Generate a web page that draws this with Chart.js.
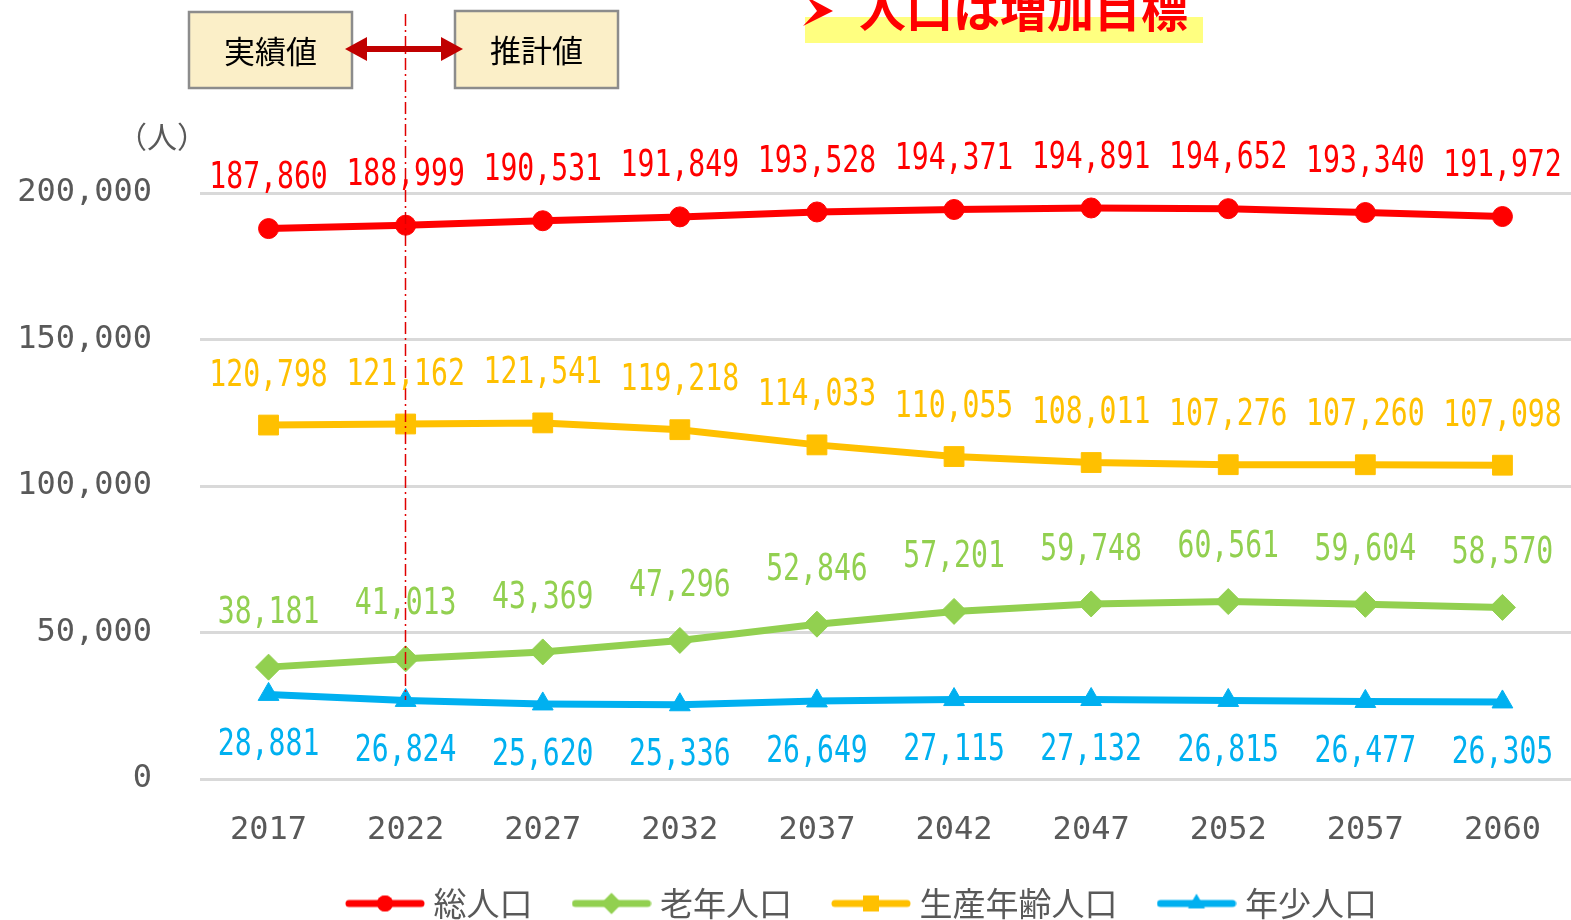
<!DOCTYPE html>
<html lang="ja">
<head>
<meta charset="utf-8">
<title>人口の推移</title>
<script src="https://cdn.jsdelivr.net/npm/chart.js@4.4.1/dist/chart.umd.min.js"></script>
<style>
  html, body { margin:0; padding:0; background:#fff; }
  #wrap { width:1571px; height:920px; }
</style>
</head>
<body>
<div id="wrap"><canvas id="chart" width="1571" height="920"></canvas></div>
<script>
// ── Data ─────────────────────────────────────────────────────
const years      = ['2017','2022','2027','2032','2037','2042','2047','2052','2057','2060'];
const totalPop   = [187860, 188999, 190531, 191849, 193528, 194371, 194891, 194652, 193340, 191972];
const elderlyPop = [38181, 41013, 43369, 47296, 52846, 57201, 59748, 60561, 59604, 58570];
const workingPop = [120798, 121162, 121541, 119218, 114033, 110055, 108011, 107276, 107260, 107098];
const youthPop   = [28881, 26824, 25620, 25336, 26649, 27115, 27132, 26815, 26477, 26305];
const yTicks     = [0, 50000, 100000, 150000, 200000];

const C = { red:'#ff0000', green:'#92d050', orange:'#ffc000', blue:'#00b0f0',
            grid:'#d9d9d9', tick:'#595959', dark:'#c00000' };

const fmt = v => v.toLocaleString('en-US');

// label offset from point (px), one per dataset
const labelOffset = [-50, -54, -49, 51];

// ── Legend icons (line + marker) ─────────────────────────────
function legendIcon(color, style, radius) {
  const cv = document.createElement('canvas');
  cv.width = 80; cv.height = 30;
  const g = cv.getContext('2d');
  g.strokeStyle = color; g.lineWidth = 7; g.lineCap = 'round';
  g.beginPath(); g.moveTo(4, 15); g.lineTo(76, 15); g.stroke();
  g.fillStyle = color;
  Chart.helpers.drawPoint(g, { pointStyle: style, radius, borderWidth: 0 }, 40, 15);
  g.fill();
  return cv;
}

const series = [
  { label:'総人口',       data:totalPop,   color:C.red,    style:'circle',   r:10 },
  { label:'老年人口',     data:elderlyPop, color:C.green,  style:'rectRot',  r:13 },
  { label:'生産年齢人口', data:workingPop, color:C.orange, style:'rect',     r:14 },
  { label:'年少人口',     data:youthPop,   color:C.blue,   style:'triangle', r:12 },
];
const icons = series.map(s => legendIcon(s.color, s.style, s.r * 0.8));

// ── Plugins ──────────────────────────────────────────────────
const overlay = {
  id: 'overlay',
  afterDatasetsDraw(chart) {
    const { ctx, scales: { x } } = chart;
    // dash-dot divider at 2022
    const dx = Math.round(x.getPixelForValue(1)) - 0.5;
    ctx.save();
    ctx.strokeStyle = '#e00000'; ctx.lineWidth = 1.5;
    ctx.setLineDash([12, 4, 2, 4]);
    ctx.beginPath(); ctx.moveTo(dx, 14); ctx.lineTo(dx, 700); ctx.stroke();
    ctx.restore();

    // value labels
    chart.data.datasets.forEach((ds, di) => {
      const meta = chart.getDatasetMeta(di);
      meta.data.forEach((pt, i) => {
        ctx.save();
        ctx.font = '37px "DejaVu Sans Mono"';
        ctx.fillStyle = ds.borderColor;
        ctx.textAlign = 'center'; ctx.textBaseline = 'middle';
        ctx.translate(pt.x, pt.y + labelOffset[di]);
        ctx.scale(0.76, 1);
        ctx.fillText(fmt(ds.data[i]), 0, 0);
        ctx.restore();
      });
    });
  },
  afterDraw(chart) {
    const { ctx } = chart;
    ctx.save();
    // unit
    ctx.fillStyle = C.tick; ctx.font = '30px "Noto Sans CJK JP"';
    ctx.textAlign = 'center'; ctx.textBaseline = 'middle';
    ctx.fillText('（人）', 162, 137);

    // boxes
    const box = (x, y, w, h, t) => {
      ctx.fillStyle = '#fbefc8'; ctx.fillRect(x, y, w, h);
      ctx.strokeStyle = '#8c8c8c'; ctx.lineWidth = 2.5; ctx.strokeRect(x, y, w, h);
      ctx.fillStyle = '#000'; ctx.font = '31px "Noto Sans CJK JP"';
      ctx.fillText(t, x + w / 2, y + h / 2 + 1);
    };
    box(189, 12, 163, 76, '実績値');
    box(455, 11, 163, 77, '推計値');

    // double arrow
    ctx.fillStyle = C.dark; ctx.strokeStyle = C.dark; ctx.lineWidth = 6;
    ctx.beginPath(); ctx.moveTo(362, 49); ctx.lineTo(446, 49); ctx.stroke();
    ctx.beginPath(); ctx.moveTo(345, 49); ctx.lineTo(367, 37); ctx.lineTo(367, 61); ctx.closePath(); ctx.fill();
    ctx.beginPath(); ctx.moveTo(463, 49); ctx.lineTo(441, 37); ctx.lineTo(441, 61); ctx.closePath(); ctx.fill();

    // headline
    ctx.fillStyle = '#ffff80'; ctx.fillRect(805, 17, 398, 26);
    ctx.fillStyle = C.red;
    ctx.beginPath(); ctx.moveTo(803, 26); ctx.lineTo(833, 11); ctx.lineTo(807, -3); ctx.lineTo(817, 11); ctx.closePath(); ctx.fill();
    ctx.font = 'bold 47px "Noto Sans CJK JP"';
    ctx.textAlign = 'left'; ctx.textBaseline = 'alphabetic';
    ctx.fillText('人口は増加目標', 859, 27);
    ctx.restore();
  }
};

// put legend where the original sits
const legendPlace = {
  id: 'legendPlace',
  afterLayout(chart) {
    chart.legend.left = 306;
    chart.legend.top = 840;
  }
};

// ── Chart ────────────────────────────────────────────────────
new Chart(document.getElementById('chart'), {
  type: 'line',
  data: {
    labels: years,
    datasets: series.map(s => ({
      label: s.label, data: s.data,
      borderColor: s.color, backgroundColor: s.color,
      pointBackgroundColor: s.color, pointBorderColor: s.color,
      pointStyle: s.style, pointRadius: s.r, pointBorderWidth: 1,
      borderWidth: 7, tension: 0, clip: false,
    })),
  },
  options: {
    responsive: false, animation: false, devicePixelRatio: 1,
    layout: { autoPadding: false, padding: { top: 193, right: 0, bottom: -19, left: 0 } },
    plugins: {
      tooltip: { enabled: false },
      legend: {
        position: 'bottom', align: 'start',
        labels: {
          usePointStyle: true, pointStyleWidth: 64, padding: 47,
          color: C.tick, font: { family: '"Noto Sans CJK JP"', size: 33 },
          generateLabels(chart) {
            const items = Chart.defaults.plugins.legend.labels.generateLabels(chart);
            items.forEach((it, i) => { it.pointStyle = icons[i]; });
            return items;
          },
        },
      },
    },
    scales: {
      x: {
        offset: true,
        grid: { display: false },
        border: { display: false },
        ticks: { color: C.tick, padding: 24, font: { family: '"DejaVu Sans Mono"', size: 32 } },
        afterFit(s) { s.height = 70; s.paddingLeft = 0; s.paddingRight = 0; },
      },
      y: {
        min: 0, max: 200000,
        afterBuildTicks(s) { s.ticks = yTicks.map(v => ({ value: v })); },
        grid: { color: C.grid, lineWidth: 3, drawTicks: false },
        border: { display: false },
        ticks: { color: C.tick, padding: 48, font: { family: '"DejaVu Sans Mono"', size: 32 }, callback: v => fmt(v) },
        afterFit(s) { s.width = 200; },
      },
    },
  },
  plugins: [overlay, legendPlace],
});
</script>
</body>
</html>
